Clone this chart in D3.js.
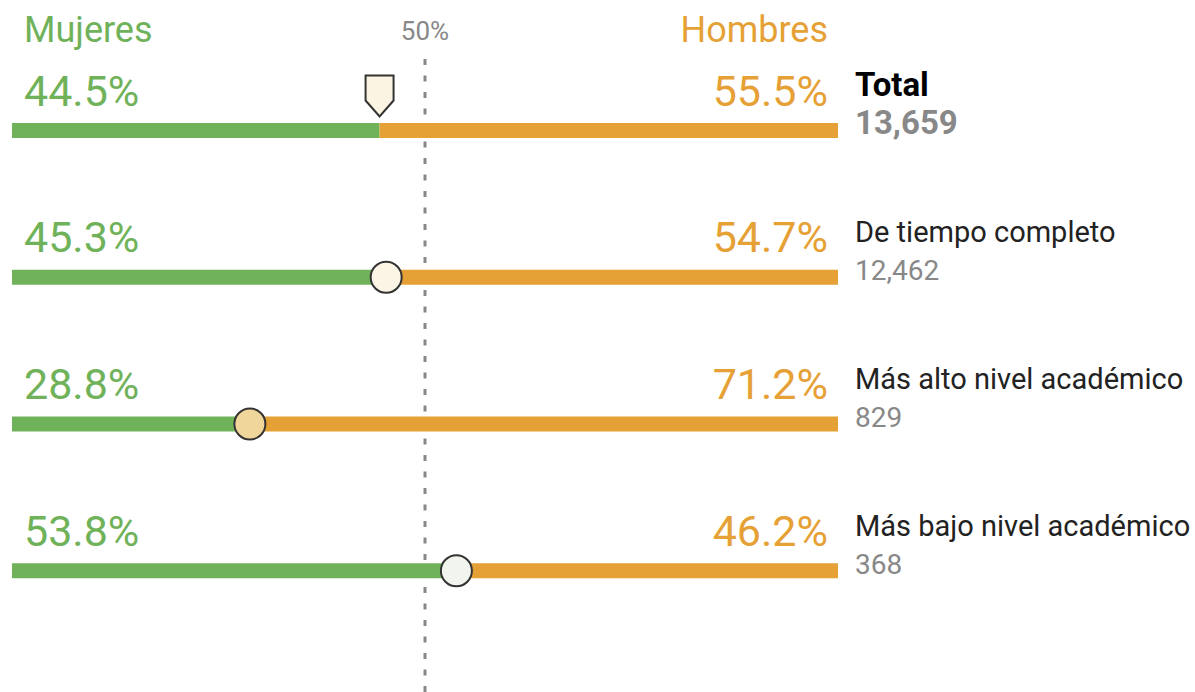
<!DOCTYPE html>
<html>
<head>
<meta charset="utf-8">
<script src="https://cdn.jsdelivr.net/npm/d3@7"></script>
<style>
  body { margin: 0; background: #fff; }
  text { font-family: Roboto, "Noto Sans", sans-serif; }
</style>
</head>
<body>
<div id="chart"></div>
<script>
// data
var categories = ["Total", "De tiempo completo", "Más alto nivel académico", "Más bajo nivel académico"];
var mujeres = [44.5, 45.3, 28.8, 53.8];
var hombres = [55.5, 54.7, 71.2, 46.2];
var counts = [13659, 12462, 829, 368];
var seriesNames = ["Mujeres", "Hombres"];
var midTick = 50;

var width = 1195, height = 692;
var green = "#70b25a", orange = "#e6a136";

var rows = categories.map(function(c, i) {
  return { name: c, m: mujeres[i], h: hombres[i], n: counts[i], total: i === 0 };
});

var x = d3.scaleLinear().domain([0, 100]).range([12, 838]);
var y = d3.scalePoint().domain(categories).range([130.5, 570.75]);

// fill of the marker goes from orange through white to green
var markerFill = d3.scaleLinear()
  .domain([25, 50, 75])
  .range(["#eecf8a", "#fffefb", "#aac49c"]);

var pct = function(v) { return d3.format(".1f")(v) + "%"; };

var svg = d3.select("#chart").append("svg")
  .attr("width", width)
  .attr("height", height);

// header
svg.append("text")
  .attr("x", 24).attr("y", 42)
  .attr("fill", green)
  .style("font-size", "36px")
  .text(seriesNames[0]);

svg.append("text")
  .attr("x", 828).attr("y", 42)
  .attr("text-anchor", "end")
  .attr("fill", orange)
  .style("font-size", "36px")
  .text(seriesNames[1]);

svg.append("text")
  .attr("x", x(midTick)).attr("y", 40)
  .attr("text-anchor", "middle")
  .attr("fill", "#888")
  .style("font-size", "26px")
  .text(midTick + "%");

// 50% reference line
svg.append("line")
  .attr("x1", x(midTick)).attr("x2", x(midTick))
  .attr("y1", 59).attr("y2", height)
  .attr("stroke", "#888")
  .attr("stroke-width", 3)
  .attr("stroke-dasharray", "6,10.5");

var row = svg.selectAll(".row")
  .data(rows)
  .enter()
  .append("g")
  .attr("class", "row")
  .attr("transform", function(d) { return "translate(0," + y(d.name) + ")"; });

var barH = 15;

row.append("rect")
  .attr("x", x(0))
  .attr("y", -barH / 2)
  .attr("width", function(d) { return x(d.m) - x(0); })
  .attr("height", barH)
  .attr("fill", green);

row.append("rect")
  .attr("x", function(d) { return x(d.m); })
  .attr("y", -barH / 2)
  .attr("width", function(d) { return x(100) - x(d.m); })
  .attr("height", barH)
  .attr("fill", orange);

// percentage labels
row.append("text")
  .attr("x", 24).attr("y", -25)
  .attr("fill", green)
  .style("font-size", "43px")
  .text(function(d) { return pct(d.m); });

row.append("text")
  .attr("x", 828).attr("y", -25)
  .attr("text-anchor", "end")
  .attr("fill", orange)
  .style("font-size", "43px")
  .text(function(d) { return pct(d.h); });

// category and count on the right
row.append("text")
  .attr("x", 855).attr("y", -35)
  .attr("fill", function(d) { return d.total ? "#000" : "#222"; })
  .style("font-size", function(d) { return d.total ? "33px" : "29px"; })
  .style("font-weight", function(d) { return d.total ? "bold" : "normal"; })
  .text(function(d) { return d.name; });

row.append("text")
  .attr("x", 855).attr("y", 3)
  .attr("fill", "#888")
  .style("font-size", function(d) { return d.total ? "33px" : "28px"; })
  .style("font-weight", function(d) { return d.total ? "bold" : "normal"; })
  .text(function(d) { return d3.format(",")(d.n); });

// markers: pin for the total, circles for the rest
row.filter(function(d) { return d.total; })
  .append("path")
  .attr("d", function(d) {
    var cx = x(d.m);
    return "M" + (cx - 14) + ",-55 L" + (cx + 14) + ",-55 L" + (cx + 14) + ",-30 L" + cx + ",-14 L" + (cx - 14) + ",-30 Z";
  })
  .attr("fill", function(d) { return markerFill(d.m); })
  .attr("stroke", "#333")
  .attr("stroke-width", 2)
  .attr("stroke-linejoin", "miter");

row.filter(function(d) { return !d.total; })
  .append("circle")
  .attr("cx", function(d) { return x(d.m); })
  .attr("cy", 0)
  .attr("r", 15.5)
  .attr("fill", function(d) { return markerFill(d.m); })
  .attr("stroke", "#333")
  .attr("stroke-width", 2);
</script>
</body>
</html>
